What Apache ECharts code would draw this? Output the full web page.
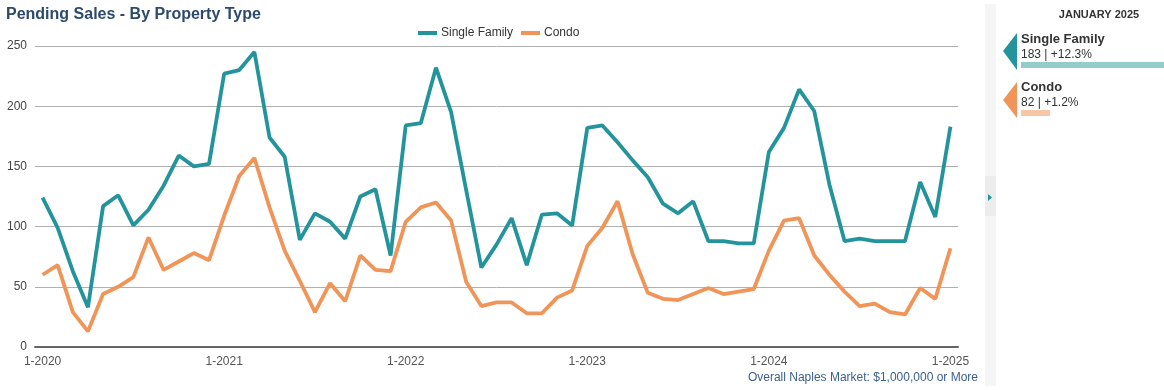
<!DOCTYPE html>
<html>
<head>
<meta charset="utf-8">
<script src="https://cdn.jsdelivr.net/npm/echarts@6/dist/echarts.min.js"></script>
<style>
  html, body { margin: 0; padding: 0; background: #fff; }
  #chart { width: 1164px; height: 390px; }
</style>
</head>
<body>
<div id="chart"></div>
<script>
// monthly values, 1-2020 .. 1-2025
const years = [2020, 2021, 2022, 2023, 2024, 2025];
const singleFamily = [
  124, 99, 63, 33, 117, 126, 101, 114, 134, 159, 150, 152,
  227, 230, 245, 174, 158, 89, 111, 104, 90, 125, 131, 76,
  184, 186, 232, 195, 130, 66, 85, 107, 68, 110, 111, 101,
  182, 184, 170, 155, 141, 119, 111, 121, 88, 88, 86, 86,
  162, 182, 214, 196, 135, 88, 90, 88, 88, 88, 137, 108,
  183
];
const condo = [
  60, 68, 29, 13, 44, 50, 58, 91, 64, 71, 78, 72,
  109, 142, 157, 116, 80, 55, 29, 53, 38, 76, 64, 63,
  104, 116, 120, 105, 54, 34, 37, 37, 28, 28, 41, 47,
  84, 99, 121, 77, 45, 40, 39, 44, 49, 44, 46, 48,
  80, 105, 107, 76, 60, 46, 34, 36, 29, 27, 49, 40,
  82
];
const yTicks = [0, 50, 100, 150, 200, 250];

const months = [];
years.forEach(y => {
  for (let m = 1; m <= 12; m++) {
    if (y === 2025 && m > 1) break;
    months.push(m + '-' + y);
  }
});

const teal = '#24949c';
const orange = '#f09458';

const chart = echarts.init(document.getElementById('chart'));
chart.setOption({
  animation: false,
  textStyle: { fontFamily: 'Liberation Sans, Arial, sans-serif' },
  title: {
    text: 'Pending Sales - By Property Type',
    left: 1,
    top: 2,
    textStyle: { color: '#2c4a6b', fontSize: 16, fontWeight: 'bold' }
  },
  legend: {
    left: 413,
    top: 22,
    icon: 'rect',
    itemWidth: 19,
    itemHeight: 4,
    itemGap: 8,
    textStyle: { color: '#333', fontSize: 12, padding: [0, 0, 0, -1] },
    data: ['Single Family', 'Condo']
  },
  grid: { left: 35, right: 206, top: 46, bottom: 43 },
  xAxis: {
    type: 'category',
    data: months,
    boundaryGap: true,
    axisLine: { lineStyle: { color: '#666', width: 2 } },
    axisTick: { alignWithLabel: true, interval: 11, length: 5, lineStyle: { color: '#666', width: 2 } },
    axisLabel: { interval: 11, color: '#555', fontSize: 12, margin: 9 }
  },
  yAxis: {
    type: 'value',
    min: yTicks[0],
    max: yTicks[yTicks.length - 1],
    interval: 50,
    axisLine: { show: false },
    axisTick: { show: false },
    axisLabel: { color: '#444', fontSize: 12, margin: 8 },
    splitLine: { lineStyle: { color: '#b0b0b0', width: 1 } }
  },
  series: [
    {
      name: 'Single Family',
      type: 'line',
      data: singleFamily,
      symbol: 'none',
      color: teal,
      lineStyle: { width: 3.8, color: teal }
    },
    {
      name: 'Condo',
      type: 'line',
      data: condo,
      symbol: 'none',
      color: orange,
      lineStyle: { width: 3.8, color: orange }
    }
  ],
  graphic: [
    { type: 'text', right: 186, bottom: 6,
      style: { text: 'Overall Naples Market: $1,000,000 or More', fill: '#3b618c', fontSize: 12, font: '12px Liberation Sans, Arial, sans-serif' } },
    // side bar with toggle arrow
    { type: 'rect', shape: { x: 985, y: 4, width: 11, height: 382 }, style: { fill: '#f5f5f5' } },
    { type: 'rect', shape: { x: 985, y: 176, width: 11, height: 40 }, style: { fill: '#ececec' } },
    { type: 'polygon', shape: { points: [[988, 194], [992, 197.5], [988, 201]] }, style: { fill: teal } },
    // latest month panel
    { type: 'text', x: 1099, y: 9,
      style: { text: 'JANUARY 2025', fill: '#333', font: 'bold 11px Liberation Sans, Arial, sans-serif', textAlign: 'center' } },
    { type: 'polygon', shape: { points: [[1003, 51], [1017, 33], [1017, 70]] }, style: { fill: teal } },
    { type: 'text', x: 1021, y: 33,
      style: { text: 'Single Family', fill: '#333', font: 'bold 13px Liberation Sans, Arial, sans-serif' } },
    { type: 'text', x: 1021, y: 49,
      style: { text: '183 | +12.3%', fill: '#333', font: '12px Liberation Sans, Arial, sans-serif' } },
    { type: 'rect', shape: { x: 1021, y: 62, width: 143, height: 6 }, style: { fill: '#94cccc' } },
    { type: 'polygon', shape: { points: [[1003, 100], [1017, 82], [1017, 118]] }, style: { fill: orange } },
    { type: 'text', x: 1021, y: 81,
      style: { text: 'Condo', fill: '#333', font: 'bold 13px Liberation Sans, Arial, sans-serif' } },
    { type: 'text', x: 1021, y: 97,
      style: { text: '82 | +1.2%', fill: '#333', font: '12px Liberation Sans, Arial, sans-serif' } },
    { type: 'rect', shape: { x: 1021, y: 110, width: 29, height: 6 }, style: { fill: '#f7c6a6' } }
  ]
});
window.addEventListener('resize', () => chart.resize());
</script>
</body>
</html>
